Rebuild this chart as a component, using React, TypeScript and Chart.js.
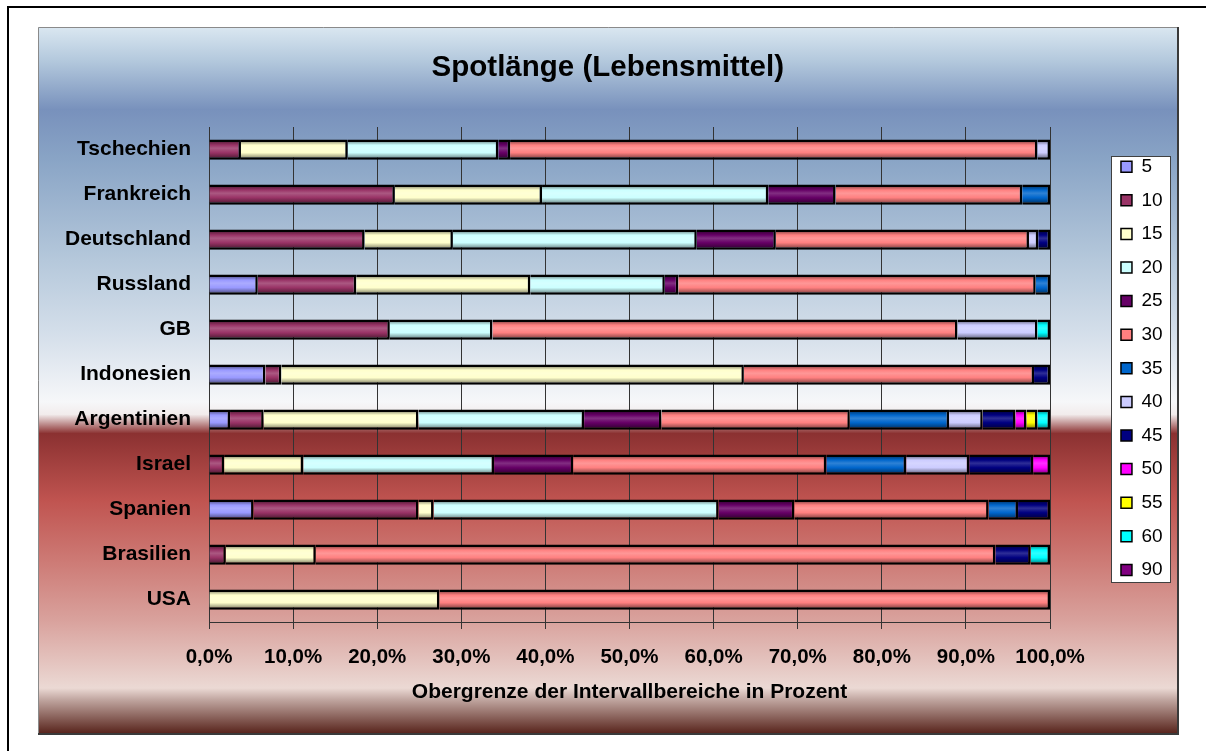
import { useEffect, useRef } from 'react';
import { Chart, registerables } from 'chart.js';

Chart.register(...registerables);

// ---------- data ----------
const countries = ['Tschechien', 'Frankreich', 'Deutschland', 'Russland', 'GB', 'Indonesien', 'Argentinien', 'Israel', 'Spanien', 'Brasilien', 'USA'];
const seriesNames = ['5', '10', '15', '20', '25', '30', '35', '40', '45', '50', '55', '60', '90'];
const seriesColors = ['#9999FF', '#993366', '#FFFFCC', '#CCFFFF', '#660066', '#FF8080', '#0066CC', '#CCCCFF', '#000080', '#FF00FF', '#FFFF00', '#00FFFF', '#800080'];

const s5 = [0, 0, 0, 5.8, 0, 6.7, 2.5, 0, 5.3, 0, 0];
const s10 = [3.8, 22.1, 18.5, 11.7, 21.5, 1.9, 4.0, 1.8, 19.6, 2.0, 0];
const s15 = [12.7, 17.5, 10.5, 20.7, 0, 55.0, 18.4, 9.4, 1.8, 10.7, 27.4];
const s20 = [17.9, 26.9, 29.0, 16.0, 12.2, 0, 19.7, 22.7, 33.9, 0, 0];
const s25 = [1.4, 8.0, 9.4, 1.6, 0, 0, 9.2, 9.4, 9.0, 0, 0];
const s30 = [62.7, 22.2, 30.1, 42.5, 55.3, 34.5, 22.4, 30.1, 23.1, 80.8, 72.6];
const s35 = [0, 3.3, 0, 1.7, 0, 0, 11.8, 9.5, 3.5, 0, 0];
const s40 = [1.5, 0, 1.1, 0, 9.5, 0, 4.0, 7.5, 0, 0, 0];
const s45 = [0, 0, 1.4, 0, 0, 1.9, 3.9, 7.6, 3.8, 4.2, 0];
const s50 = [0, 0, 0, 0, 0, 0, 1.3, 2.0, 0, 0, 0];
const s55 = [0, 0, 0, 0, 0, 0, 1.3, 0, 0, 0, 0];
const s60 = [0, 0, 0, 0, 1.5, 0, 1.5, 0, 0, 2.3, 0];
const s90 = [0, 0, 0, 0, 0, 0, 0, 0, 0, 0, 0];
const seriesValues = [s5, s10, s15, s20, s25, s30, s35, s40, s45, s50, s55, s60, s90];

const xTickLabels = ['0,0%', '10,0%', '20,0%', '30,0%', '40,0%', '50,0%', '60,0%', '70,0%', '80,0%', '90,0%', '100,0%'];
const chartTitle = 'Spotlänge (Lebensmittel)';
const xAxisTitle = 'Obergrenze der Intervallbereiche in Prozent';

// ---------- helpers ----------
const FONT = "'Liberation Sans', Arial, sans-serif";

function rgb(hex: string) {
  const n = parseInt(hex.slice(1), 16);
  return [(n >> 16) & 255, (n >> 8) & 255, n & 255];
}
function shade(hex: string, f: number) {
  const [r, g, b] = rgb(hex);
  return `rgb(${Math.round(r * f)},${Math.round(g * f)},${Math.round(b * f)})`;
}
function lighten(hex: string, t: number) {
  const [r, g, b] = rgb(hex);
  return `rgb(${Math.round(r + (255 - r) * t)},${Math.round(g + (255 - g) * t)},${Math.round(b + (255 - b) * t)})`;
}

const barFill = (color: string) => (ctx: any) => {
  const chart = ctx.chart;
  const yScale = chart.scales && chart.scales.y;
  if (ctx.type !== 'data' || !yScale) return color;
  const yc = yScale.getPixelForValue(ctx.dataIndex);
  if (!isFinite(yc)) return color;
  const g = chart.ctx.createLinearGradient(0, yc - 8, 0, yc + 8);
  g.addColorStop(0, shade(color, 0.6));
  g.addColorStop(0.22, color);
  g.addColorStop(0.42, lighten(color, 0.18));
  g.addColorStop(0.7, color);
  g.addColorStop(1, shade(color, 0.6));
  return g;
};

const backgroundPlugin = {
  id: 'excelBackground',
  beforeDraw(chart: any) {
    const c = chart.ctx as CanvasRenderingContext2D;
    c.save();
    c.fillStyle = '#ffffff';
    c.fillRect(0, 0, chart.width, chart.height);

    // outer frame
    c.strokeStyle = '#000';
    c.lineWidth = 2;
    c.beginPath();
    c.moveTo(8, chart.height + 5);
    c.lineTo(8, 7);
    c.lineTo(chart.width + 5, 7);
    c.stroke();

    // inner chart area gradient
    const top = 27, bottom = 734, left = 38, right = 1178;
    const g = c.createLinearGradient(0, top, 0, bottom);
    const stops: [number, string][] = [
      [0, '#dae7f1'], [0.047, '#b4c9dd'], [0.117, '#7891bc'], [0.19, '#8aa5c6'],
      [0.33, '#b5c8db'], [0.44, '#d6e0eb'], [0.53, '#f6f7f9'], [0.548, '#f2ecec'],
      [0.575, '#8b3131'], [0.67, '#c05450'], [0.755, '#cd7a75'], [0.84, '#d9a29d'],
      [0.935, '#ebd9d4'], [0.952, '#bfa49e'], [1, '#56221a'],
    ];
    stops.forEach(([o, col]) => g.addColorStop(o, col));
    c.fillStyle = g;
    c.fillRect(left, top, right - left, bottom - top);
    c.lineWidth = 1;
    c.strokeStyle = '#8a8a8a';
    c.beginPath();
    c.moveTo(left + 0.5, bottom);
    c.lineTo(left + 0.5, top + 0.5);
    c.lineTo(right, top + 0.5);
    c.stroke();
    c.lineWidth = 2;
    c.strokeStyle = '#3a3a3a';
    c.beginPath();
    c.moveTo(right, top);
    c.lineTo(right, bottom);
    c.lineTo(left, bottom);
    c.stroke();

    // legend box
    const hbs = chart.legend && chart.legend.legendHitBoxes;
    if (hbs && hbs.length) {
      const first = hbs[0];
      const last = hbs[hbs.length - 1];
      const bx = Math.round(first.left - 10) + 0.5;
      const by = Math.round(first.top - 1.5) + 0.5;
      const bw = 59;
      const bh = Math.round(last.top + last.height + 2.5) - by + 0.5;
      c.fillStyle = '#ffffff';
      c.fillRect(bx, by, bw, bh);
      c.strokeStyle = '#404040';
      c.lineWidth = 1;
      c.strokeRect(bx, by, bw, bh);
    }
    c.restore();
  },
};

export default function App() {
  const ref = useRef<HTMLCanvasElement>(null);

  useEffect(() => {
    const canvas = ref.current;
    if (!canvas) return;
    Chart.defaults.font.family = FONT;
    Chart.defaults.color = '#000';

    const chart = new Chart(canvas, {
      type: 'bar',
      data: {
        labels: countries,
        datasets: seriesNames.map((name, i) => ({
          label: name,
          data: seriesValues[i],
          backgroundColor: barFill(seriesColors[i]),
          borderColor: '#000',
          borderWidth: 2.5,
          barPercentage: 0.45,
          categoryPercentage: 1,
          xAxisID: 'x',
          yAxisID: 'y',
        })),
      },
      options: {
        indexAxis: 'y',
        responsive: false,
        animation: false,
        layout: { padding: { left: 43, right: 33.4, top: 27, bottom: 41.4 } },
        plugins: {
          title: {
            display: true,
            text: chartTitle,
            color: '#000',
            font: { size: 29.5, weight: 'bold', family: FONT },
            padding: { top: 23.3, bottom: 41.3 },
          },
          legend: {
            display: true,
            position: 'right',
            labels: {
              boxWidth: 11,
              boxHeight: 11,
              padding: 14.6,
              color: '#000',
              font: { size: 19, family: FONT },
              generateLabels: () =>
                seriesNames.map((n, i) => ({
                  text: n,
                  fillStyle: seriesColors[i],
                  strokeStyle: '#000',
                  lineWidth: 1.5,
                  hidden: false,
                  datasetIndex: i,
                })),
            },
          },
          tooltip: { enabled: false },
        },
        scales: {
          x: {
            type: 'linear',
            stacked: true,
            position: 'bottom',
            min: 0,
            max: 100,
            ticks: {
              stepSize: 10,
              autoSkip: false,
              maxRotation: 0,
              padding: 16,
              color: '#000',
              font: { size: 20.5, weight: 'bold', family: FONT },
              callback: (_v: any, i: number) => xTickLabels[i],
            },
            grid: { color: '#333', lineWidth: 1, tickLength: 7, drawTicks: true },
            border: { display: true, color: '#333', width: 1 },
            title: {
              display: true,
              text: xAxisTitle,
              color: '#000',
              font: { size: 21, weight: 'bold', family: FONT },
              padding: { top: 0, bottom: 5 },
            },
            afterFit: (s: any) => {
              s.height = 87.6;
            },
          },
          y: {
            type: 'category',
            stacked: true,
            position: 'left',
            grid: { display: false, drawTicks: false },
            border: { display: true, color: '#333', width: 1 },
            ticks: {
              autoSkip: false,
              padding: 18,
              color: '#000',
              font: { size: 21, weight: 'bold', family: FONT },
            },
            afterFit: (s: any) => {
              s.width = 166;
            },
          },
          yPad: {
            type: 'linear',
            position: 'right',
            display: true,
            grid: { display: false, drawTicks: false },
            border: { display: false },
            ticks: { display: false },
            afterFit: (s: any) => {
              const lw = s.chart.legend ? s.chart.legend.width : 66;
              s.width = Math.max(0, 1206 - 33.4 - 1050 - lw);
            },
          },
        },
      } as any,
      plugins: [backgroundPlugin],
    });

    return () => chart.destroy();
  }, []);

  return (
    <div style={{ position: 'absolute', left: 0, top: 0, width: 1206, height: 751 }}>
      <canvas ref={ref} width={1206} height={751} style={{ display: 'block' }} />
    </div>
  );
}
